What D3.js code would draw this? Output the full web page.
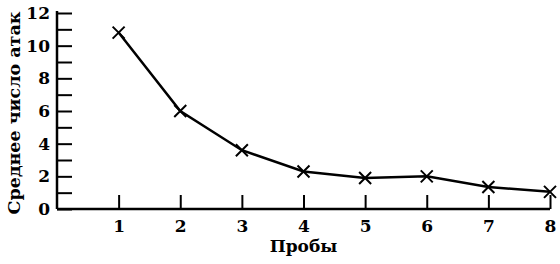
<!DOCTYPE html>
<meta charset="utf-8">
<script src="https://d3js.org/d3.v7.min.js"></script>
<style>
  body { margin: 0; background: #fff; }
  text { font-family: "DejaVu Serif", "Liberation Serif", serif; font-weight: bold; fill: #000; }
</style>
<div id="chart"></div>
<script>

    // data
    const trials = [1, 2, 3, 4, 5, 6, 7, 8];
    const attacks = [10.8, 6.0, 3.6, 2.3, 1.9, 2.0, 1.35, 1.05];
    const yTicks = [0, 1, 2, 3, 4, 5, 6, 7, 8, 9, 10, 11, 12];
    const yLabels = [0, 2, 4, 6, 8, 10, 12];
    const xLabel = "Пробы";
    const yLabel = "Среднее число атак";

    const W = 560, H = 264;
    const margin = {top: 13, right: 10, bottom: 55, left: 57};
    const width = W - margin.left - margin.right,
          height = H - margin.top - margin.bottom;

    const svg = d3.select("#chart")
      .append("svg")
        .attr("width", W)
        .attr("height", H)
      .append("g")
        .attr("transform", `translate(${margin.left},${margin.top})`);

    const x = d3.scaleLinear().domain([0, 8]).range([0, 493]);
    const y = d3.scaleLinear().domain([0, 12]).range([height, 0]);

    // x axis: ticks point up into the plot
    const xAxis = svg.append("g")
      .attr("transform", `translate(0,${height})`)
      .call(d3.axisBottom(x).tickValues(trials).tickSize(-14).tickPadding(11).tickFormat(d3.format("d")));
    xAxis.select(".domain").attr("d", `M0,0H${x(8)}`).attr("stroke-width", 2.5);
    xAxis.selectAll(".tick line").attr("stroke-width", 2);
    xAxis.selectAll(".tick text").attr("font-size", 17);

    // y axis: ticks on every unit, labels on even ones
    const yAxis = svg.append("g")
      .call(d3.axisLeft(y).tickValues(yTicks).tickSize(-15).tickPadding(7)
        .tickFormat(d => yLabels.includes(d) ? d : ""));
    yAxis.select(".domain").attr("d", `M0,${height}V-2`).attr("stroke-width", 2.5);
    yAxis.selectAll(".tick line").attr("stroke-width", 2);
    yAxis.selectAll(".tick text").attr("font-size", 17);

    svg.append("text")
      .attr("x", x(4))
      .attr("y", height + 43)
      .attr("text-anchor", "middle")
      .attr("font-size", 17)
      .text(xLabel);

    svg.append("text")
      .attr("transform", `translate(${14 - margin.left},${height / 2 + 2}) rotate(-90)`)
      .attr("text-anchor", "middle")
      .attr("dominant-baseline", "central")
      .attr("font-size", 17.5)
      .text(yLabel);

    const pts = trials.map((t, i) => ({t: t, v: attacks[i]}));

    svg.append("path")
      .datum(pts)
      .attr("fill", "none")
      .attr("stroke", "#000")
      .attr("stroke-width", 2.5)
      .attr("d", d3.line().x(d => x(d.t)).y(d => y(d.v)));

    // cross markers
    const s = 6;
    svg.append("g")
      .selectAll("path")
      .data(pts)
      .join("path")
        .attr("d", d => {
          const cx = x(d.t), cy = y(d.v);
          return `M${cx - s},${cy - s}L${cx + s},${cy + s}M${cx - s},${cy + s}L${cx + s},${cy - s}`;
        })
        .attr("stroke", "#000")
        .attr("stroke-width", 2);

</script>
</html>
